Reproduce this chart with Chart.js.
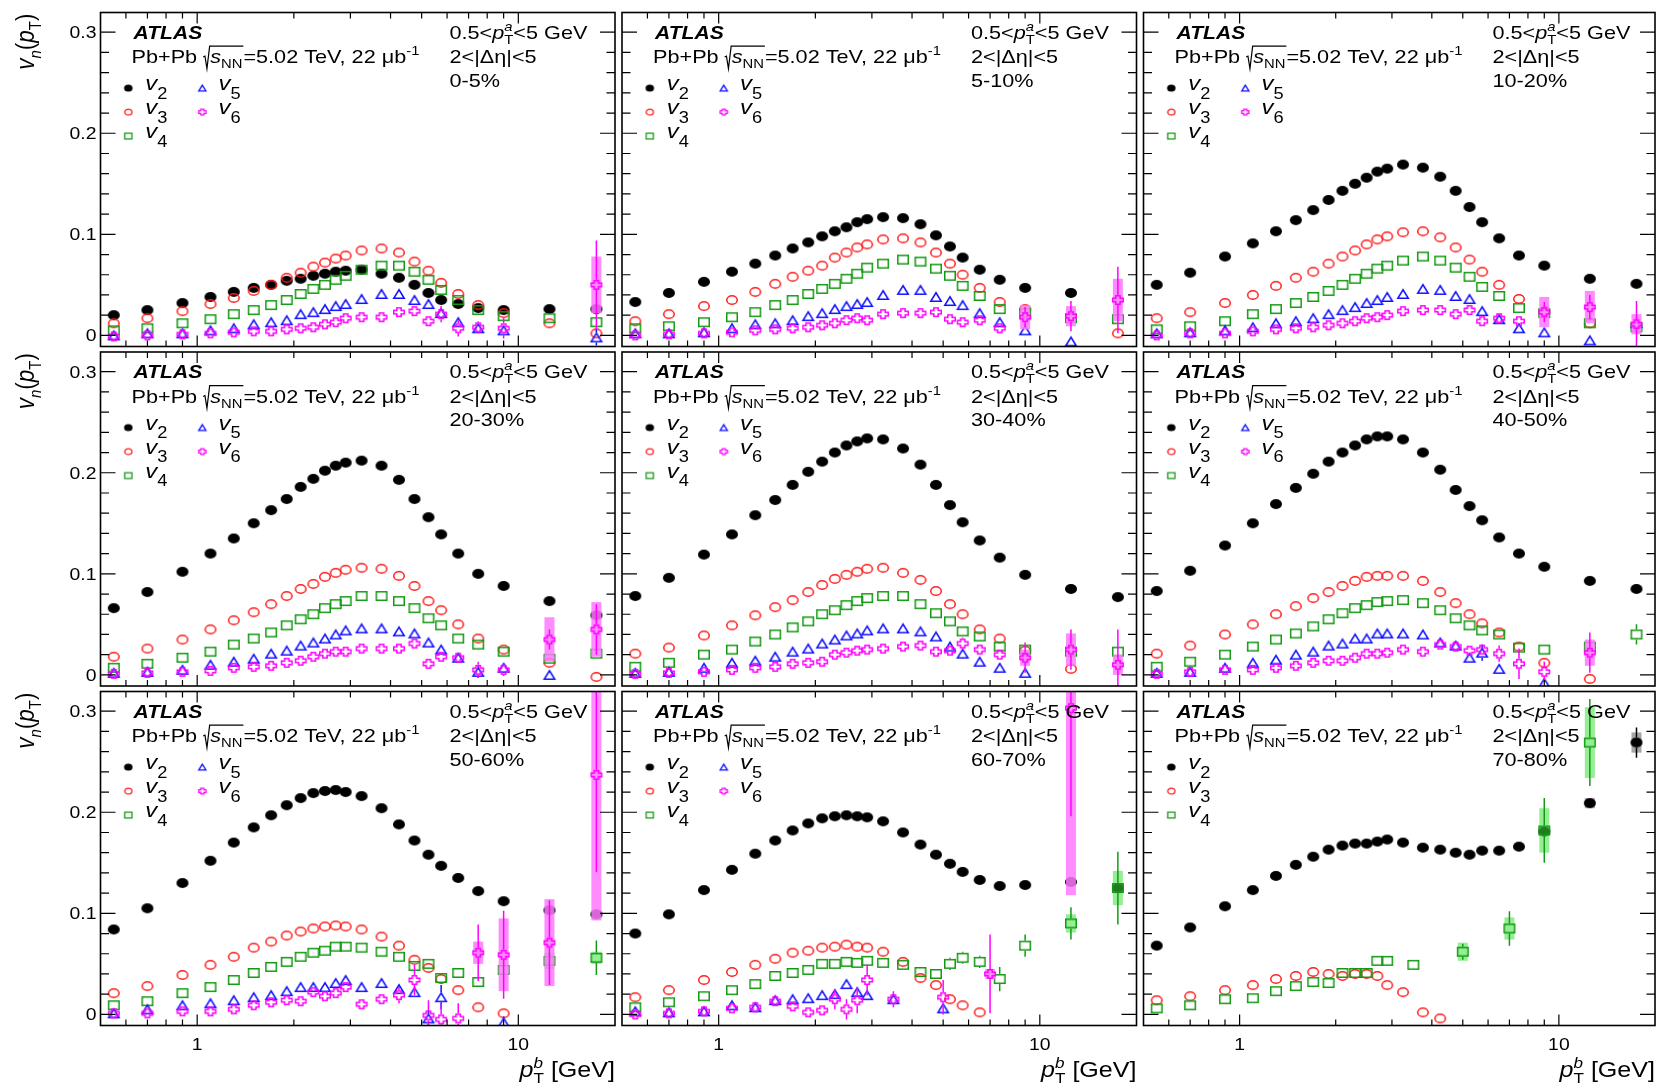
<!DOCTYPE html>
<html>
<head>
<meta charset="utf-8">
<script src="https://cdn.jsdelivr.net/npm/chart.js@4.4.0/dist/chart.umd.min.js"></script>
<style>
  html, body { margin: 0; padding: 0; background: #ffffff; }
  #wrap { position: relative; width: 1661px; height: 1087px; overflow: hidden; background: #ffffff; }
  #wrap canvas { position: absolute; left: 0; top: 0; }
</style>
</head>
<body>
<div id="wrap"></div>
<script>
// ---------------- pT bins (GeV) ----------------
const PT   = [0.55,0.7,0.9,1.1,1.3,1.5,1.7,1.9,2.1,2.3,2.5,2.7,2.9,3.25,3.75,4.25,4.75,5.25,5.75,6.5,7.5,9,12.5,17.5];
const PT_M = [0.55,0.7,0.9,1.1,1.3,1.5,1.7,1.9,2.1,2.3,2.5,2.7,2.9,3.5,5,7,9,12.5,17.5];

const CENTRALITY = ['0-5%','5-10%','10-20%','20-30%','30-40%','40-50%','50-60%','60-70%','70-80%'];
const Y_MAJOR = [0, 0.1, 0.2, 0.3];
const Y_LABELS = ['0', '0.1', '0.2', '0.3'];
const X_MAJOR = [1, 10];
const X_LABELS = ['1', '10'];
const X_MINOR = [0.6,0.7,0.8,0.9,2,3,4,5,6,7,8,9];

// ---------------- v_n(pT), 0-5% ----------------
const v2_c0 = [0.020,0.025,0.032,0.038,0.043,0.047,0.050,0.054,0.056,0.059,0.061,0.063,0.064,0.065,0.061,0.057,0.050,0.042,0.035,0.031,0.027,0.025,0.026,0.026];
const v3_c0 = [0.012,0.017,0.024,0.031,0.037,0.044,0.050,0.057,0.062,0.068,0.072,0.076,0.079,0.084,0.086,0.082,0.073,0.064,0.052,0.041,0.030,0.022,0.012,0.002];
const v4_c0 = [0.005,0.007,0.012,0.016,0.021,0.025,0.030,0.035,0.041,0.046,0.050,0.055,0.059,0.065,0.069,0.069,0.063,0.055,0.045,0.035,0.025,0.019,0.017,0.013];
const v5_c0 = [0.000,0.002,0.002,0.005,0.007,0.011,0.013,0.015,0.021,0.023,0.026,0.029,0.031,0.036,0.041,0.041,0.035,0.031,0.022,0.013,0.007,0.005,null,-0.002];
const v6_c0 = [-0.001,0.000,0.001,0.002,0.003,0.004,0.004,0.006,0.007,0.008,0.011,0.013,0.017,0.018,0.018,0.023,0.024,0.014,0.021,0.007,0.008,0.007,null,0.050];
// ---------------- 5-10% ----------------
const v2_c1 = [0.033,0.042,0.053,0.063,0.071,0.079,0.086,0.092,0.098,0.103,0.107,0.112,0.115,0.117,0.116,0.110,0.099,0.088,0.077,0.065,0.055,0.047,0.042,null];
const v3_c1 = [0.014,0.021,0.029,0.035,0.043,0.051,0.058,0.064,0.069,0.077,0.082,0.087,0.090,0.095,0.096,0.092,0.082,0.071,0.060,0.047,0.033,0.026,null,0.002];
const v4_c1 = [0.007,0.009,0.013,0.018,0.023,0.030,0.035,0.041,0.046,0.051,0.056,0.061,0.067,0.071,0.075,0.073,0.066,0.059,0.049,0.039,0.026,0.022,0.017,0.016];
const v5_c1 = [0.002,0.002,0.003,0.007,0.011,0.012,0.015,0.019,0.022,0.026,0.029,0.031,0.033,0.040,0.045,0.045,0.038,0.034,0.030,0.022,0.013,0.005,-0.006,null];
const v6_c1 = [0.000,0.001,0.002,0.003,0.005,0.006,0.007,0.008,0.010,0.012,0.015,0.017,0.015,0.021,0.022,0.022,0.023,0.016,0.013,0.015,0.007,0.018,0.019,0.035];
// ---------------- 10-20% ----------------
const v2_c2 = [0.050,0.062,0.078,0.091,0.103,0.114,0.124,0.134,0.143,0.150,0.156,0.162,0.165,0.169,0.166,0.157,0.143,0.127,0.112,0.096,0.079,0.069,0.056,0.051];
const v3_c2 = [0.017,0.023,0.032,0.040,0.049,0.057,0.063,0.071,0.078,0.084,0.090,0.095,0.098,0.102,0.103,0.097,0.087,0.075,0.063,0.050,0.036,0.024,0.012,null];
const v4_c2 = [0.006,0.009,0.014,0.021,0.026,0.032,0.038,0.044,0.050,0.056,0.061,0.066,0.069,0.074,0.078,0.074,0.067,0.058,0.048,0.039,0.027,0.022,0.012,0.008];
const v5_c2 = [0.002,0.003,0.005,0.008,0.012,0.014,0.017,0.021,0.025,0.028,0.032,0.035,0.038,0.041,0.046,0.045,0.039,0.036,0.024,0.016,0.007,0.003,-0.005,0.012];
const v6_c2 = [0.000,0.002,0.002,0.004,0.006,0.007,0.008,0.010,0.012,0.014,0.017,0.018,0.020,0.024,0.025,0.025,0.021,0.025,0.014,0.017,0.014,0.023,0.028,0.011];
// ---------------- 20-30% ----------------
const v2_c3 = [0.066,0.082,0.102,0.120,0.135,0.150,0.163,0.174,0.186,0.194,0.202,0.207,0.210,0.212,0.207,0.193,0.174,0.156,0.139,0.120,0.100,0.088,0.073,0.059];
const v3_c3 = [0.018,0.026,0.035,0.045,0.054,0.062,0.070,0.078,0.085,0.090,0.097,0.101,0.104,0.106,0.105,0.098,0.088,0.073,0.064,0.050,0.036,0.025,0.012,-0.002];
const v4_c3 = [0.007,0.011,0.017,0.023,0.030,0.036,0.042,0.049,0.055,0.060,0.066,0.070,0.073,0.078,0.078,0.073,0.066,0.056,0.049,0.036,0.030,0.023,0.016,0.021];
const v5_c3 = [0.002,0.003,0.005,0.010,0.013,0.016,0.021,0.024,0.029,0.032,0.036,0.040,0.044,0.046,0.046,0.043,0.041,0.032,0.025,0.017,0.003,0.007,0.000,null];
const v6_c3 = [0.001,0.002,0.003,0.004,0.007,0.008,0.009,0.012,0.014,0.018,0.021,0.023,0.023,0.026,0.026,0.026,0.031,0.011,0.018,0.017,0.005,0.005,0.035,0.045];
// ---------------- 30-40% ----------------
const v2_c4 = [0.078,0.096,0.119,0.139,0.158,0.173,0.188,0.201,0.211,0.220,0.227,0.231,0.234,0.233,0.224,0.208,0.188,0.168,0.151,0.133,0.116,0.099,0.085,0.077];
const v3_c4 = [0.021,0.027,0.039,0.049,0.059,0.067,0.074,0.082,0.089,0.095,0.099,0.102,0.105,0.106,0.101,0.094,0.083,0.070,0.060,0.045,0.036,0.024,0.006,null];
const v4_c4 = [0.008,0.012,0.020,0.025,0.033,0.040,0.047,0.053,0.060,0.064,0.069,0.073,0.076,0.078,0.078,0.070,0.061,0.053,0.043,0.038,0.028,0.025,0.023,0.023];
const v5_c4 = [0.002,0.003,0.007,0.012,0.014,0.018,0.023,0.026,0.031,0.035,0.039,0.041,0.044,0.046,0.046,0.043,0.038,0.028,0.021,0.013,0.007,0.002,null,null];
const v6_c4 = [0.001,0.002,0.003,0.005,0.007,0.008,0.011,0.012,0.013,0.020,0.022,0.024,0.025,0.026,0.028,0.029,0.023,0.024,0.031,0.025,0.020,0.017,0.025,0.010];
// ---------------- 40-50% ----------------
const v2_c5 = [0.083,0.103,0.128,0.150,0.169,0.185,0.199,0.211,0.220,0.227,0.233,0.236,0.236,0.233,0.220,0.203,0.183,0.167,0.153,0.136,0.120,0.107,0.093,0.085];
const v3_c5 = [0.021,0.029,0.040,0.050,0.060,0.068,0.076,0.082,0.088,0.093,0.097,0.098,0.098,0.098,0.093,0.082,0.071,0.060,0.051,0.042,0.028,0.012,-0.004,null];
const v4_c5 = [0.008,0.013,0.020,0.028,0.035,0.041,0.048,0.055,0.061,0.066,0.069,0.072,0.073,0.074,0.071,0.064,0.056,0.049,0.044,0.040,0.027,0.025,0.028,0.040];
const v5_c5 = [0.002,0.003,0.007,0.012,0.015,0.020,0.023,0.029,0.031,0.036,0.036,0.041,0.041,0.041,0.040,0.032,0.029,0.017,0.022,0.006,null,-0.008,null,null];
const v6_c5 = [0.001,0.003,0.005,0.005,0.007,0.009,0.012,0.014,0.014,0.017,0.021,0.021,0.022,0.025,0.023,0.030,0.028,0.024,0.025,0.021,0.011,0.003,0.022,null];
// ---------------- 50-60% ----------------
const v2_c6 = [0.084,0.105,0.130,0.152,0.170,0.185,0.197,0.207,0.214,0.219,0.221,0.222,0.220,0.216,0.204,0.188,0.172,0.158,0.147,0.135,0.122,0.112,0.103,0.099];
const v3_c6 = [0.021,0.028,0.039,0.049,0.057,0.066,0.072,0.078,0.082,0.085,0.087,0.088,0.087,0.084,0.077,0.068,0.054,0.046,0.035,0.024,0.007,0.001,null,null];
const v4_c6 = [0.009,0.013,0.021,0.027,0.034,0.041,0.047,0.052,0.057,0.061,0.063,0.067,0.067,0.066,0.062,0.057,0.048,0.050,0.036,0.041,0.032,0.044,0.053,0.056];
const v5_c6 = [0.001,0.005,0.009,0.011,0.014,0.017,0.019,0.023,0.027,0.027,0.027,0.031,0.034,0.027,0.031,0.025,0.022,-0.004,0.017,null,null,-0.008,null,null];
const v6_c6 = [0.001,0.001,0.003,0.003,0.005,0.009,0.012,0.014,0.013,0.022,0.018,0.021,0.027,0.010,0.015,0.019,0.034,-0.001,-0.005,-0.004,0.061,0.059,0.071,0.237];
// ---------------- 60-70% (v5, v6 on merged bins) ----------------
const v2_c7 = [0.080,0.099,0.123,0.143,0.159,0.172,0.182,0.189,0.194,0.196,0.197,0.196,0.195,0.191,0.180,0.168,0.158,0.149,0.141,0.133,0.127,0.128,0.131,0.125];
const v3_c7 = [0.017,0.024,0.034,0.042,0.049,0.055,0.061,0.063,0.066,0.067,0.069,0.067,0.066,0.062,0.052,0.036,0.029,0.015,0.009,0.002,null,null,null,null];
const v4_c7 = [0.007,0.012,0.018,0.024,0.030,0.038,0.041,0.044,0.050,0.050,0.052,0.051,0.053,0.051,0.049,0.042,0.040,0.050,0.056,0.052,0.035,0.068,0.090,0.125];
const v5_c7 = [0.003,0.002,0.003,0.009,0.007,0.014,0.015,0.016,0.019,0.020,0.030,0.022,0.019,0.015,0.006,null,null,null,null];
const v6_c7 = [0.000,0.001,0.003,0.006,0.007,0.013,0.008,0.002,0.004,0.015,0.005,0.014,0.034,0.015,0.017,0.040,null,0.303,null];
// ---------------- 70-80% (v4 on merged bins) ----------------
const v2_c8 = [0.068,0.086,0.107,0.123,0.137,0.148,0.156,0.163,0.167,0.169,0.169,0.171,0.173,0.170,0.165,0.163,0.160,0.158,0.162,0.162,0.166,0.181,0.209,0.269];
const v3_c8 = [0.014,0.018,0.024,0.029,0.035,0.038,0.042,0.040,0.038,0.040,0.040,0.038,0.029,0.022,0.002,-0.004,null,null,null,null,null,null,null,null];
const v4_c8 = [0.006,0.009,0.015,0.016,0.023,0.028,0.032,0.031,0.041,0.041,0.041,0.053,0.053,0.049,0.062,0.085,0.182,0.269,null];

// ---------------- uncertainties: [pT, stat, syst] ----------------
const err_v5_c0 = [[17.5,0.008,0]];
const err_v6_c0 = [[5.75,0.008,0],[6.5,0.008,0],[7.5,0.006,0],[9,0.010,0],[17.5,0.044,0.028]];
const err_v6_c1 = [[9,0.010,0.012],[12.5,0.015,0.010],[17.5,0.033,0.021]];
const err_v5_c2 = [[17.5,0.006,0]];
const err_v6_c2 = [[9,0.010,0.015],[12.5,0.012,0.016],[17.5,0.023,0.010]];
const err_v5_c3 = [[7.5,0.006,0]];
const err_v6_c3 = [[7.5,0.008,0],[9,0.006,0],[12.5,0.010,0.022],[17.5,0.025,0.027]];
const err_v6_c4 = [[5.75,0.006,0],[9,0.015,0.008],[12.5,0.020,0.016],[17.5,0.035,0.010]];
const err_v4_c5 = [[17.5,0.010,0]];
const err_v5_c5 = [[5.75,0.008,0]];
const err_v6_c5 = [[6.5,0.008,0],[7.5,0.015,0],[9,0.010,0],[12.5,0.020,0.013]];
const err_v4_c6 = [[9,0.010,0],[12.5,0.008,0.008],[17.5,0.017,0.006]];
const err_v5_c6 = [[5.25,0.008,0],[5.75,0.012,0],[9,0.006,0]];
const err_v6_c6 = [[4.25,0.008,0],[4.75,0.015,0],[5.25,0.015,0],[5.75,0.015,0],[6.5,0.015,0],[7.5,0.028,0.011],[9,0.0435,0.036],[12.5,0.042,0.043],[17.5,0.096,0.144]];
const err_v4_c7 = [[5.25,0.006,0],[5.75,0.006,0],[6.5,0.006,0],[7.5,0.012,0],[9,0.011,0],[12.5,0.016,0.009],[17.5,0.036,0.017]];
const err_v6_c7 = [[2.3,0.010,0],[2.5,0.010,0],[2.7,0.013,0],[2.9,0.015,0],[3.5,0.008,0],[5,0.017,0],[7,0.039,0.005],[12.5,0.107,0.185]];
const err_v2_c8 = [[12.5,0.004,0.005],[17.5,0.015,0.010]];
const err_v4_c8 = [[2.7,0.005,0],[2.9,0.005,0],[5,0.008,0.009],[7,0.017,0.011],[9,0.032,0.022],[12.5,0.043,0.035]];

const CLASSES = [
  { v2: v2_c0, v3: v3_c0, v4: v4_c0, v5: v5_c0, v6: v6_c0, err: { v5: err_v5_c0, v6: err_v6_c0 } },
  { v2: v2_c1, v3: v3_c1, v4: v4_c1, v5: v5_c1, v6: v6_c1, err: { v6: err_v6_c1 } },
  { v2: v2_c2, v3: v3_c2, v4: v4_c2, v5: v5_c2, v6: v6_c2, err: { v5: err_v5_c2, v6: err_v6_c2 } },
  { v2: v2_c3, v3: v3_c3, v4: v4_c3, v5: v5_c3, v6: v6_c3, err: { v5: err_v5_c3, v6: err_v6_c3 } },
  { v2: v2_c4, v3: v3_c4, v4: v4_c4, v5: v5_c4, v6: v6_c4, err: { v6: err_v6_c4 } },
  { v2: v2_c5, v3: v3_c5, v4: v4_c5, v5: v5_c5, v6: v6_c5, err: { v4: err_v4_c5, v5: err_v5_c5, v6: err_v6_c5 } },
  { v2: v2_c6, v3: v3_c6, v4: v4_c6, v5: v5_c6, v6: v6_c6, err: { v4: err_v4_c6, v5: err_v5_c6, v6: err_v6_c6 } },
  { v2: v2_c7, v3: v3_c7, v4: v4_c7, v5: v5_c7, v6: v6_c7, xs: { v5: PT_M, v6: PT_M }, err: { v4: err_v4_c7, v6: err_v6_c7 } },
  { v2: v2_c8, v3: v3_c8, v4: v4_c8, xs: { v4: PT_M }, err: { v2: err_v2_c8, v4: err_v4_c8 } }
];

// ---------------- styling ----------------
const SERIES = [
  { key: 'v2', n: '2', color: '#000000', kind: 'dot',      box: 'rgba(0,0,0,0.35)' },
  { key: 'v3', n: '3', color: '#ff1a1a', kind: 'circle',   box: 'rgba(255,40,40,0.35)' },
  { key: 'v4', n: '4', color: '#139a13', kind: 'square',   box: 'rgba(60,225,60,0.55)' },
  { key: 'v5', n: '5', color: '#1010ff', kind: 'triangle', box: 'rgba(90,90,255,0.4)' },
  { key: 'v6', n: '6', color: '#ff00ff', kind: 'cross',    box: 'rgba(255,120,255,0.85)' }
];
const LEGEND_SLOT = { v2: [0, 0], v3: [0, 1], v4: [0, 2], v5: [1, 0], v6: [1, 1] };

const W = 1661, H = 1087;
const COL_X = [100.5, 622, 1143.5];
const ROW_Y = [12.5, 352, 691.5];
const PW = 514.5, PH = 334;
const YMIN = -0.011, YMAX = 0.3195;
const FF = '"Liberation Sans", Arial, Helvetica, sans-serif';
const HS = 1.14; // horizontal glyph stretch
const MW = 12, MH = 10;   // data marker box
const LW = 8.5, LH = 7.2; // legend marker box

function makeMarker(kind, color, w, h, lw) {
  const c = document.createElement('canvas');
  c.width = Math.ceil(w) + 4; c.height = Math.ceil(h) + 4;
  const g = c.getContext('2d');
  const cx = c.width / 2, cy = c.height / 2, rx = w / 2, ry = h / 2;
  g.strokeStyle = color; g.fillStyle = color; g.lineWidth = lw; g.lineJoin = 'miter';
  g.beginPath();
  if (kind === 'dot') {
    g.ellipse(cx, cy, rx, ry, 0, 0, Math.PI * 2); g.fill();
  } else if (kind === 'circle') {
    g.ellipse(cx, cy, rx - lw / 2, ry - lw / 2, 0, 0, Math.PI * 2); g.stroke();
  } else if (kind === 'square') {
    g.rect(cx - rx + lw / 2, cy - ry + lw / 2, w - lw, h - lw); g.stroke();
  } else if (kind === 'triangle') {
    g.moveTo(cx, cy - ry + lw / 2);
    g.lineTo(cx + rx - lw / 2, cy + ry - lw / 2);
    g.lineTo(cx - rx + lw / 2, cy + ry - lw / 2);
    g.closePath(); g.stroke();
  } else if (kind === 'cross') {
    const X = rx - lw / 2, Y = ry - lw / 2, a = rx * 0.36, b = ry * 0.36;
    const pts = [[-a,-Y],[a,-Y],[a,-b],[X,-b],[X,b],[a,b],[a,Y],[-a,Y],[-a,b],[-X,b],[-X,-b],[-a,-b]];
    pts.forEach((p, i) => i ? g.lineTo(cx + p[0], cy + p[1]) : g.moveTo(cx + p[0], cy + p[1]));
    g.closePath(); g.stroke();
  }
  return c;
}
const MARK = {}, LMARK = {};
SERIES.forEach(s => {
  MARK[s.key] = makeMarker(s.kind, s.color, MW, MH, 1.5);
  LMARK[s.key] = makeMarker(s.kind, s.color, LW, LH, 1.3);
});

// ---------------- text helpers ----------------
function fnt(st, size) {
  const pre = st === 'i' ? 'italic ' : st === 'b' ? 'bold ' : st === 'bi' ? 'italic bold ' : '';
  return pre + size + 'px ' + FF;
}
function put(ctx, x, y, t, sx) {
  ctx.save(); ctx.translate(x, y); ctx.scale(sx, 1); ctx.fillText(t, 0, 0); ctx.restore();
}
// parts: [text, style, size, dy] or {sup:[...], sub:[...]}
function run(ctx, x, y, parts, draw = true, sx = HS) {
  let cx = x;
  for (const p of parts) {
    if (Array.isArray(p)) {
      ctx.font = fnt(p[1], p[2]);
      const w = ctx.measureText(p[0]).width * sx;
      if (draw) put(ctx, cx, y + (p[3] || 0), p[0], sx);
      cx += w;
    } else {
      ctx.font = fnt(p.sup[1], p.sup[2]);
      const w1 = ctx.measureText(p.sup[0]).width * sx;
      if (draw) put(ctx, cx, y + p.sup[3], p.sup[0], sx);
      ctx.font = fnt(p.sub[1], p.sub[2]);
      const w2 = ctx.measureText(p.sub[0]).width * sx;
      if (draw) put(ctx, cx, y + p.sub[3], p.sub[0], sx);
      cx += Math.max(w1, w2);
    }
  }
  return cx - x;
}

function drawInfo(ctx, L, T, idx) {
  ctx.fillStyle = '#000';
  ctx.textBaseline = 'alphabetic'; ctx.textAlign = 'left';
  run(ctx, L + 33, T + 26, [['ATLAS', 'bi', 18.5]]);
  // Pb+Pb sqrt(s_NN) line
  const by = T + 50.6;
  let x = L + 31;
  x += run(ctx, x, by, [['Pb+Pb ', 'n', 19]]);
  const rx = x;
  x += 7;
  x += run(ctx, x, by, [['s', 'i', 19], ['NN', 'n', 13, 5]]);
  ctx.save(); ctx.strokeStyle = '#000'; ctx.lineWidth = 1.2; ctx.beginPath();
  ctx.moveTo(rx, by - 6); ctx.lineTo(rx + 1.8, by - 7); ctx.lineTo(rx + 3.8, by + 5.5);
  ctx.lineTo(rx + 6.5, by - 17); ctx.lineTo(x + 1, by - 17); ctx.stroke(); ctx.restore();
  x += 1;
  run(ctx, x, by, [['=5.02 TeV, 22 \u03bcb', 'n', 19], ['-1', 'n', 13, -8]]);
  // kinematic selection and centrality
  const R = L + 349;
  run(ctx, R, T + 26, [['0.5<', 'n', 19], ['p', 'i', 19], { sup: ['a', 'i', 13, -8], sub: ['T', 'n', 13, 5] }, ['<5 GeV', 'n', 19]]);
  run(ctx, R, T + 50.6, [['2<|\u0394\u03b7|<5', 'n', 19]]);
  run(ctx, R, T + 74, [[CENTRALITY[idx], 'n', 19]]);
}

function drawLegend(ctx, L, T, keys) {
  keys.forEach(k => {
    const [c, r] = LEGEND_SLOT[k];
    const mx = L + (c ? 101.8 : 27.8), my = T + 75.6 + 24 * r;
    const img = LMARK[k];
    ctx.drawImage(img, mx - img.width / 2, my - img.height / 2);
    const tx = L + (c ? 118 : 44.8);
    ctx.fillStyle = '#000';
    run(ctx, tx, T + 77.5 + 24 * r, [['v', 'i', 21], [k.slice(1), 'n', 16, 8.8]]);
  });
}

function drawYTitle(ctx, T) {
  const parts = [['v', 'i', 22.5], ['n', 'i', 15, 6], ['(', 'n', 22.5], ['p', 'i', 22.5], ['T', 'n', 15, 6], [')', 'n', 22.5]];
  const len = run(ctx, 0, 0, parts, false, 1);
  ctx.save();
  ctx.translate(34, T + 1 + len);
  ctx.rotate(-Math.PI / 2);
  ctx.scale(1, HS);
  ctx.fillStyle = '#000';
  run(ctx, 0, 0, parts, true, 1);
  ctx.restore();
}

function drawXTitle(ctx, right) {
  const parts = [['p', 'i', 22], { sup: ['b', 'i', 15, -9], sub: ['T', 'n', 15, 6] }, [' [GeV]', 'n', 22]];
  const w = run(ctx, 0, 0, parts, false);
  ctx.fillStyle = '#000';
  run(ctx, right - w, 1077, parts);
}

// ---------------- decoration plugin ----------------
const deco = {
  id: 'panelDeco',
  beforeDatasetDraw(chart, args) {
    const ds = chart.data.datasets[args.index];
    if (!ds.errs || !ds.errs.length) return;
    const { ctx, chartArea: a, scales: { x, y } } = chart;
    ctx.save();
    ctx.beginPath(); ctx.rect(a.left, a.top, a.right - a.left, a.bottom - a.top); ctx.clip();
    ds.errs.forEach(([px, st, sy]) => {
      const pt = ds.data.find(d => Math.abs(d.x - px) < 1e-6);
      if (!pt) return;
      const cx = x.getPixelForValue(pt.x), cy = y.getPixelForValue(pt.y);
      if (sy > 0) {
        const y1 = y.getPixelForValue(pt.y + sy), y2 = y.getPixelForValue(pt.y - sy);
        ctx.fillStyle = ds.sty.box;
        ctx.fillRect(cx - 5, y1, 10, y2 - y1);
      }
      if (st > 0) {
        const y1 = y.getPixelForValue(pt.y + st), y2 = y.getPixelForValue(pt.y - st);
        ctx.strokeStyle = ds.sty.color; ctx.lineWidth = 1.5;
        ctx.beginPath();
        if (cy - y1 > MH / 2) { ctx.moveTo(cx, y1); ctx.lineTo(cx, cy - MH / 2); }
        if (y2 - cy > MH / 2) { ctx.moveTo(cx, cy + MH / 2); ctx.lineTo(cx, y2); }
        ctx.stroke();
      }
    });
    ctx.restore();
  },
  afterDatasetsDraw(chart) {
    const { ctx, chartArea: a, scales: { x, y } } = chart;
    ctx.save();
    ctx.strokeStyle = '#000'; ctx.lineWidth = 1.2;
    ctx.beginPath();
    for (let k = 0; k <= 16; k++) {
      const v = k * 0.02;
      if (v > YMAX) break;
      const py = y.getPixelForValue(v);
      const len = k % 5 === 0 ? 15 : 8.5;
      ctx.moveTo(a.left, py); ctx.lineTo(a.left + len, py);
      ctx.moveTo(a.right, py); ctx.lineTo(a.right - len, py);
    }
    X_MINOR.concat(X_MAJOR).forEach(v => {
      const px = x.getPixelForValue(v);
      const len = X_MAJOR.includes(v) ? 11 : 6;
      ctx.moveTo(px, a.top); ctx.lineTo(px, a.top + len);
      ctx.moveTo(px, a.bottom); ctx.lineTo(px, a.bottom - len);
    });
    ctx.stroke();
    ctx.lineWidth = 1.6;
    ctx.strokeRect(a.left, a.top, a.right - a.left, a.bottom - a.top);
    ctx.restore();
  },
  afterDraw(chart, args, opts) {
    const { ctx, chartArea: a, scales: { x, y } } = chart;
    const { idx, col, row, keys } = opts;
    ctx.save();
    drawInfo(ctx, a.left, a.top, idx);
    drawLegend(ctx, a.left, a.top, keys);
    ctx.fillStyle = '#000';
    if (col === 0) {
      Y_MAJOR.forEach((v, i) => {
        const w = run(ctx, 0, 0, [[Y_LABELS[i], 'n', 17]], false);
        run(ctx, a.left - 4 - w, y.getPixelForValue(v) + 6, [[Y_LABELS[i], 'n', 17]]);
      });
      drawYTitle(ctx, a.top);
    }
    if (row === 2) {
      X_MAJOR.forEach((v, i) => {
        const w = run(ctx, 0, 0, [[X_LABELS[i], 'n', 17]], false);
        run(ctx, x.getPixelForValue(v) - w / 2, 1050, [[X_LABELS[i], 'n', 17]]);
      });
      drawXTitle(ctx, a.right);
    }
    ctx.restore();
  }
};

// ---------------- build the 3x3 grid ----------------
const wrap = document.getElementById('wrap');
CLASSES.forEach((cls, idx) => {
  const col = idx % 3, row = Math.floor(idx / 3);
  const L = COL_X[col], T = ROW_Y[row];
  const datasets = [], keys = [];
  SERIES.forEach((s, k) => {
    const ys = cls[s.key];
    if (!ys) return;
    keys.push(s.key);
    const xs = (cls.xs && cls.xs[s.key]) || PT;
    const data = [];
    xs.forEach((xv, i) => { if (ys[i] !== null && ys[i] !== undefined) data.push({ x: xv, y: ys[i] }); });
    datasets.push({
      label: s.key, data, order: 5 - k,
      pointStyle: MARK[s.key], pointRadius: 5, pointHoverRadius: 5,
      showLine: false,
      errs: (cls.err && cls.err[s.key]) || [], sty: s
    });
  });
  const cv = document.createElement('canvas');
  cv.width = W; cv.height = H;
  cv.style.width = W + 'px'; cv.style.height = H + 'px';
  wrap.appendChild(cv);
  new Chart(cv, {
    type: 'scatter',
    data: { datasets },
    options: {
      responsive: false, animation: false, devicePixelRatio: 1, events: [],
      layout: { padding: { left: L, top: T, right: W - L - PW, bottom: H - T - PH } },
      scales: {
        x: { type: 'logarithmic', min: 0.5, max: 20, display: false },
        y: { type: 'linear', min: YMIN, max: YMAX, display: false }
      },
      plugins: {
        legend: { display: false }, tooltip: { enabled: false },
        panelDeco: { idx, col, row, keys }
      }
    },
    plugins: [deco]
  });
});
</script>
</body>
</html>
